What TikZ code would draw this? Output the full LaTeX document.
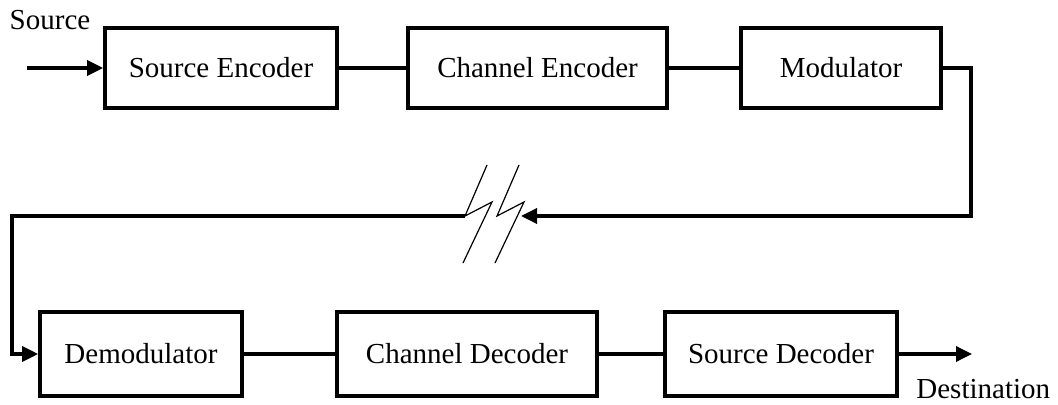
\documentclass[tikz,border=0pt]{standalone}
\usepackage{fontspec}
\setmainfont{Liberation Serif}
\usetikzlibrary{arrows.meta}

\begin{document}
\begin{tikzpicture}[x=.5pt,y=-.5pt,
  block/.style={draw,line width=1.8pt,minimum height=40pt,inner sep=0pt,font=\fontsize{14.5}{17}\selectfont},
  label/.style={inner sep=0pt,font=\fontsize{14.5}{17}\selectfont},
  link/.style={line width=1.7pt},
  tip/.style={-{Triangle[length=8pt,width=7.5pt]}},
  bolt/.style={line width=.6pt}]
\useasboundingbox (0,0) rectangle (1058,405);

% top row
\node[block,minimum width=116pt] (senc) at (221,68) {Source Encoder};
\node[block,minimum width=129.5pt] (cenc) at (537.5,68) {Channel Encoder};
\node[block,minimum width=100pt] (mod) at (841,68) {Modulator};
\node[label] (src) at (50,20) {Source};
\coordinate (in) at (27,68);

% bottom row
\node[block,minimum width=101pt,minimum height=42pt] (demod) at (141,354) {Demodulator};
\node[block,minimum width=130pt,minimum height=42pt] (cdec) at (467,354) {Channel Decoder};
\node[block,minimum width=116pt,minimum height=42pt] (sdec) at (781,354) {Source Decoder};
\node[label,anchor=base west] (dst) at (916,398) {Destination};
\coordinate (out) at (972,354);

% channel
\coordinate (rx) at (521,216);
\coordinate (lx) at (465,216);
\draw[bolt] (487,165) -- (lx) -- (492,202) -- (463,263);
\draw[bolt] (519,165) -- (497,216) -- (524,202) -- (495,263);

\draw[link,tip] (in) -- (senc);
\draw[link] (senc) -- (cenc);
\draw[link] (cenc) -- (mod);
\draw[link,tip] (mod.east) -| (971,216) -- (rx);
\draw[link,tip] (lx) -- (12,216) |- (demod.west);
\draw[link] (demod) -- (cdec);
\draw[link] (cdec) -- (sdec);
\draw[link,tip] (sdec) -- (out);
\end{tikzpicture}
\end{document}
